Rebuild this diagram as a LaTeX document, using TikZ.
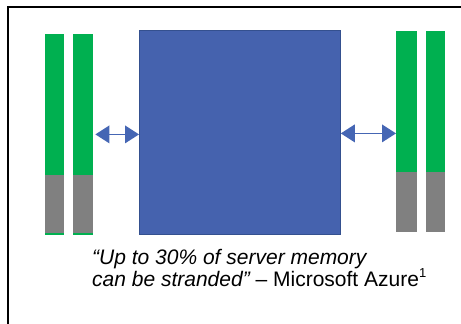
\documentclass[tikz,border=0pt]{standalone}
\usepackage{fontspec}
\setmainfont{Liberation Sans}
\usetikzlibrary{arrows.meta}
\definecolor{sqblue}{HTML}{4562AE}
\definecolor{sqedge}{HTML}{34508F}
\definecolor{arrblue}{HTML}{4566B4}
\definecolor{memgreen}{HTML}{00B050}
\definecolor{memgray}{HTML}{808080}
\tikzset{
  membar/.style={draw=none, fill=memgreen, inner sep=0pt, minimum width=#1, anchor=north west},
  grayseg/.style={fill=memgray, draw=none},
  cpubox/.style={draw=sqedge, line width=0.8pt, fill=sqblue, inner sep=0pt, anchor=north west},
  dblarrow/.style={draw=arrblue, line width=1.4pt, {Triangle[length=14pt,width=18pt,line width=0pt]}-{Triangle[length=14pt,width=18pt,line width=0pt]}},
  frameline/.style={line width=1.8pt, black},
  quote/.style={font=\fontsize{21}{22}\selectfont, anchor=base west, inner sep=0pt}
}
\begin{document}
\begin{tikzpicture}[x=1pt,y=1pt]
\useasboundingbox (0,0) rectangle (461,324);
\fill[white] (0,0) rectangle (461,324);
% frame
\draw[frameline] (8,-5) -- (8,317) -- (470,317);
% left bars
\node[membar=19pt, minimum height=201pt] (bar1) at (45,290) {};
\fill[grayseg] (45,149) rectangle (64,91);
\node[membar=20pt, minimum height=201pt] (bar2) at (73,290) {};
\fill[grayseg] (73,149) rectangle (93,91);
% right bars
\node[membar=21pt, minimum height=201pt] (bar3) at (396,293) {};
\fill[grayseg] (396,152) rectangle (417,92);
\node[membar=19pt, minimum height=201pt] (bar4) at (426,293) {};
\fill[grayseg] (426,152) rectangle (445,92);
% central box
\node[cpubox, minimum width=201pt, minimum height=204pt] (cpu) at (139,294) {};
% arrows
\draw[dblarrow] ([xshift=2pt,yshift=-2pt]bar2.east |- cpu.west) -- ([yshift=-2pt]cpu.west);
\draw[dblarrow] ([yshift=-1pt]cpu.east) -- ([yshift=-1pt]bar3.west |- cpu.east);
% text
\node[quote] (q1) at (92,59) {\itshape “Up to 30\% of server memory};
\node[quote] (q2) at (92,37) {\itshape can be stranded”\upshape\ – Microsoft Azure\raisebox{9pt}{\fontsize{13}{13}\selectfont 1}};
\end{tikzpicture}
\end{document}
